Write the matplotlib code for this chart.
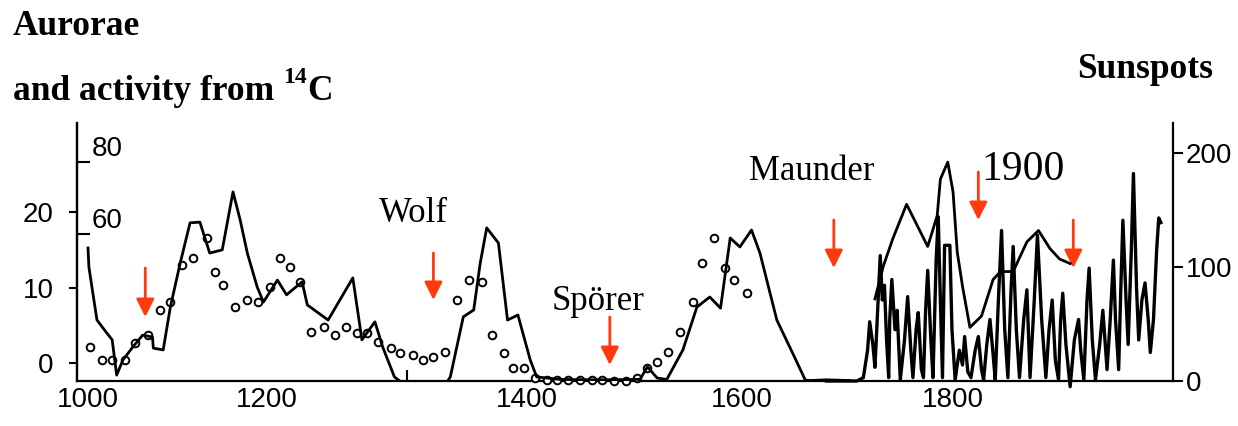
import numpy as np
import matplotlib
matplotlib.use("Agg")
import matplotlib.pyplot as plt
from matplotlib.transforms import blended_transform_factory

# ---------------- data ----------------
# solar activity reconstructed from radiocarbon (14C), 1000-1700
c14_years = [1000, 1001, 1010, 1021, 1027, 1032, 1039, 1050, 1061, 1072, 1073, 1084,
             1092, 1103, 1114, 1125, 1136, 1150, 1162, 1170, 1178, 1189, 1196, 1208,
             1215, 1227, 1231, 1247, 1266, 1273, 1283, 1289, 1298, 1302, 1310, 1335,
             1341, 1351, 1359, 1364, 1369, 1378, 1385, 1393, 1403, 1409, 1431, 1468,
             1505, 1512, 1521, 1530, 1545, 1558, 1570, 1580, 1589, 1598, 1609, 1617,
             1633, 1648, 1660, 1665, 1680, 1702]
c14_activity = [56.1, 50.8, 36.1, 32.5, 30.6, 20.8, 25.0, 28.6, 31.9, 31.4, 28.3, 27.8,
                39.7, 51.9, 63.1, 63.3, 54.7, 55.6, 71.7, 63.9, 54.7, 45.3, 41.1, 47.2,
                43.1, 46.7, 40.3, 36.1, 47.8, 30.6, 35.6, 28.6, 20.3, 19.2, 17.0, 17.0,
                20.3, 37.0, 38.9, 51.9, 61.7, 57.5, 36.1, 37.5, 25.0, 20.3, 19.6, 19.5,
                19.6, 23.1, 20.0, 19.6, 27.8, 39.7, 42.5, 39.4, 58.9, 56.4, 61.1, 54.7,
                36.1, 26.9, 19.4, 19.3, 19.5, 19.3]

# auroral counts (open circles)
aurora_years = [1002, 1016, 1027, 1041, 1053, 1067, 1080, 1092, 1105, 1117, 1133, 1142,
                1151, 1164, 1178, 1190, 1202, 1210, 1218, 1225, 1234, 1244, 1252, 1261,
                1269, 1277, 1285, 1295, 1302, 1312, 1320, 1328, 1337, 1346, 1355, 1365,
                1373, 1382, 1389, 1398, 1407, 1419, 1428, 1438, 1449, 1460, 1470, 1481,
                1492, 1502, 1512, 1521, 1531, 1542, 1554, 1563, 1574, 1584, 1593, 1605]
aurora_counts = [2.1, 0.4, 0.4, 0.4, 2.6, 3.7, 7.0, 8.1, 13.0, 13.9, 16.6, 12.1,
                 10.3, 7.4, 8.3, 8.1, 10.1, 13.9, 12.7, 10.7, 4.1, 4.8, 3.7, 4.8,
                 4.0, 4.0, 2.8, 2.0, 1.3, 1.1, 0.4, 0.8, 1.5, 8.3, 11.0, 10.7,
                 3.7, 1.3, -0.7, -0.7, -2.0, -2.3, -2.3, -2.3, -2.3, -2.3, -2.3, -2.4,
                 -2.4, -2.0, -0.7, 0.1, 1.5, 4.1, 8.1, 13.2, 16.6, 12.6, 11.0, 9.3]

# telescopic sunspot numbers
sunspot_years = [1680, 1709, 1715, 1719, 1721, 1724, 1726, 1729, 1731, 1733, 1735, 1737,
                 1739, 1740, 1742, 1745, 1747, 1750, 1754, 1757, 1760, 1762, 1765, 1767,
                 1770, 1772, 1774, 1776, 1779, 1781, 1784, 1786, 1788, 1790, 1792, 1797,
                 1799, 1802, 1806, 1809, 1811, 1814, 1817, 1821, 1824, 1827, 1829, 1832,
                 1835, 1838, 1840, 1843, 1846, 1849, 1852, 1855, 1857, 1860, 1863, 1867,
                 1870, 1873, 1877, 1880, 1884, 1888, 1891, 1894, 1897, 1900, 1902, 1904,
                 1907, 1911, 1915, 1919, 1921, 1924, 1927, 1929, 1932, 1935, 1939, 1942,
                 1946, 1949, 1952, 1954, 1957, 1959, 1961, 1964, 1966, 1969, 1971, 1974,
                 1976, 1979, 1982, 1985, 1987, 1990, 1993, 1995, 1997]
sunspot_numbers = [0, 0, 3, 27, 52, 32, 12, 71, 110, 71, 84, 36,
                   3, 54, 89, 45, 62, 1, 36, 74, 27, 3, 45, 60,
                   10, 3, 62, 97, 36, 3, 106, 144, 71, 3, 119, 119,
                   45, 1, 27, 14, 39, 8, 3, 27, 39, 10, 1, 32,
                   54, 23, 1, 71, 132, 45, 3, 80, 118, 45, 3, 54,
                   80, 3, 71, 128, 54, 3, 45, 71, 18, 1, 54, 77,
                   32, -5, 36, 54, 27, 1, 71, 99, 36, 1, 32, 62,
                   10, 54, 106, 54, 10, 80, 141, 71, 32, 115, 182, 80,
                   36, 71, 86, 54, 25, 54, 115, 143, 139]

# long-term smoothed activity envelope
smooth_years = [1726, 1734, 1743, 1756, 1776, 1785, 1788, 1795, 1800, 1804, 1809, 1816,
                1827, 1838, 1845, 1857, 1870, 1881, 1892, 1901, 1911]
smooth_numbers = [72, 101, 125, 155, 118, 145, 177, 192, 166, 113, 83, 47,
                  57, 89, 96, 96, 122, 132, 116, 107, 103]

minima_years = [1064, 1328, 1477, 1687, 1824, 1914]
year_ticks = [1000, 1200, 1400, 1600, 1800]

# ---------------- figure ----------------
W, H = 1238, 426
fig = plt.figure(figsize=(W / 100, H / 100), dpi=100)
fig.patch.set_facecolor("white")

serif = ["Liberation Serif", "DejaVu Serif"]
sans = ["Liberation Sans", "DejaVu Sans"]

# piecewise-linear time axis (the panels were joined at different spacings)
brk_years = np.array([900.0, 1000, 1200, 1400, 1600, 1800, 2100])
brk_pos = np.array([-1.5, 88, 267, 527, 742, 953, 1269.5])


def fwd(v):
    return np.interp(v, brk_years, brk_pos)


def inv(v):
    return np.interp(v, brk_pos, brk_years)


ax = fig.add_axes([77 / W, (H - 381) / H, (1173 - 77) / W, (381 - 123) / H])
ax.set_xscale("function", functions=(fwd, inv))
ax.set_xlim(987.7, 2008.5)
ax.set_ylim(-2.38, 31.8)
ax.patch.set_alpha(0)

c14_ax = ax.twinx()
c14_ax.set_ylim(19.17, 90.83)
spot_ax = ax.twinx()
spot_ax.set_ylim(0, 226.3)

# spines
for a in (ax, c14_ax, spot_ax):
    for s in a.spines.values():
        s.set_visible(False)
        s.set_linewidth(1.6)
ax.spines["left"].set_visible(True)
ax.spines["bottom"].set_visible(True)
spot_ax.spines["right"].set_visible(True)
c14_ax.spines["right"].set_visible(True)
c14_ax.spines["right"].set_position(("axes", 0))

# x ticks
ax.set_xticks(year_ticks)
ax.set_xticklabels([str(y) for y in year_ticks], fontfamily=sans, fontsize=20)
ax.xaxis.set_minor_locator(matplotlib.ticker.FixedLocator([1200, 1308, 1600]))
ax.xaxis.set_minor_formatter(matplotlib.ticker.NullFormatter())
ax.tick_params(axis="x", which="major", length=0, pad=4)
ax.tick_params(axis="x", which="minor", direction="in", length=8, width=1.5)

# aurora count axis (left)
ax.set_yticks([0, 10, 20])
ax.set_yticklabels(["0", "10", "20"], fontfamily=sans, fontsize=20)
ax.tick_params(axis="y", direction="out", length=6, width=1.5, pad=11)

# 14C activity scale, drawn inside the left spine
c14_ax.set_yticks([60, 80])
c14_ax.set_yticklabels(["60", "80"], fontfamily=sans, fontsize=20, va="bottom")
c14_ax.tick_params(axis="y", direction="out", length=9.5, width=1.5, pad=1)

# sunspot axis (right)
spot_ax.set_yticks([0, 100, 200])
spot_ax.set_yticklabels(["0", "100", "200"], fontfamily=sans, fontsize=20)
spot_ax.tick_params(axis="y", direction="out", length=7.5, width=1.5, pad=1.5)

# curves
c14_ax.plot(c14_years, c14_activity, color="black", lw=2.0)
ax.plot(aurora_years, aurora_counts, linestyle="none", marker="o", ms=5.5,
        mfc="white", mec="black", mew=1.4, clip_on=False, zorder=5)
spot_ax.plot(sunspot_years, sunspot_numbers, color="black", lw=2.4, clip_on=False)
spot_ax.plot(smooth_years, smooth_numbers, color="black", lw=2.0)

# grand minima markers
trans = blended_transform_factory(ax.transData, ax.transAxes)
arrow_tails = [0.438, 0.496, 0.248, 0.624, 0.810, 0.624]
arrow_tips = [0.248, 0.314, 0.062, 0.438, 0.624, 0.438]
for yr, y0, y1 in zip(minima_years, arrow_tails, arrow_tips):
    ax.annotate("", xy=(yr, y1), xycoords=trans, xytext=(yr, y0), textcoords=trans,
                arrowprops=dict(arrowstyle="-|>", color="#ff3a0f", lw=2.0,
                                mutation_scale=27, shrinkA=0, shrinkB=0))


def fx(x):
    return x / W


def fy(y):
    return 1 - y / H


fig.text(fx(413), fy(222), "Wolf", fontfamily=serif, fontsize=25, ha="center", va="baseline")
fig.text(fx(598), fy(310), "Spörer", fontfamily=serif, fontsize=25, ha="center", va="baseline")
fig.text(fx(812), fy(180), "Maunder", fontfamily=serif, fontsize=25, ha="center", va="baseline")
fig.text(fx(1023), fy(180), "1900", fontfamily=serif, fontsize=30, ha="center", va="baseline")

# headings
fig.text(fx(13), fy(35), "Aurorae", fontfamily=serif, fontweight="bold", fontsize=25.5,
         va="baseline")
t = fig.text(fx(13), fy(100), "and activity from ", fontfamily=serif, fontweight="bold",
             fontsize=25.5, va="baseline")
fig.canvas.draw()
bb = t.get_window_extent()
sup = fig.text(bb.x1 / W, fy(83), "14", fontfamily=serif, fontweight="bold", fontsize=17,
               va="baseline")
fig.canvas.draw()
bb2 = sup.get_window_extent()
fig.text(bb2.x1 / W, fy(100), "C", fontfamily=serif, fontweight="bold", fontsize=25.5,
         va="baseline")
fig.text(fx(1213), fy(78), "Sunspots", fontfamily=serif, fontweight="bold", fontsize=25.5,
         ha="right", va="baseline")

fig.savefig("out.png", dpi=100, facecolor="white")
